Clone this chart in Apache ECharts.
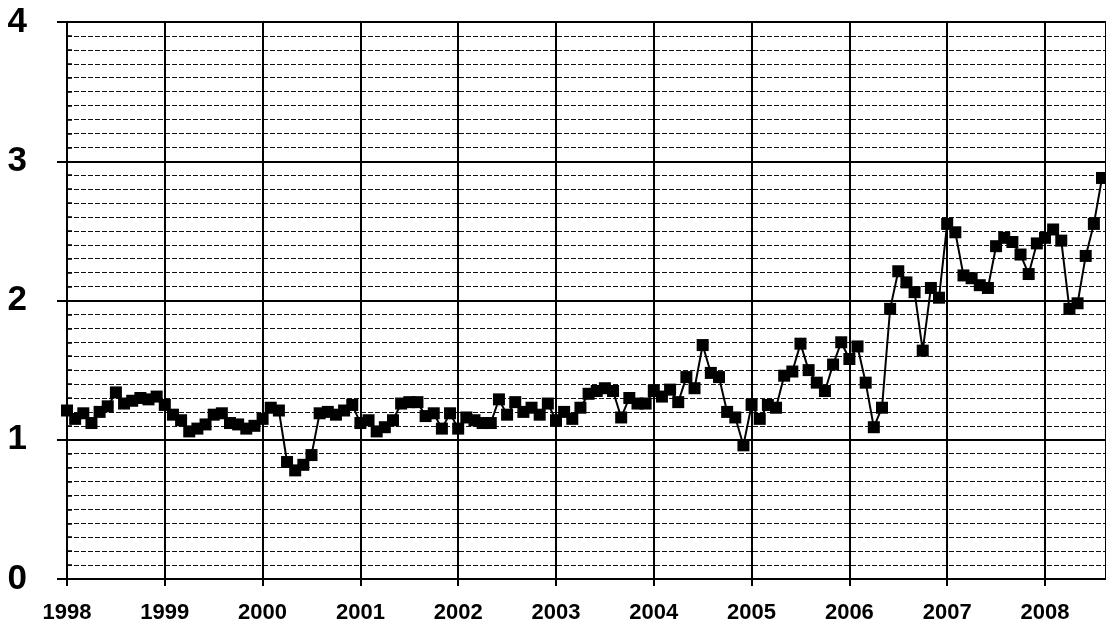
<!DOCTYPE html>
<html>
<head>
<meta charset="utf-8">
<script src="https://cdn.jsdelivr.net/npm/echarts@6/dist/echarts.min.js"></script>
<style>
html,body{margin:0;padding:0;background:#fff;}
#chart{width:1106px;height:624px;}
</style>
</head>
<body>
<div id="chart"></div>
<script>
// Monthly values, January to December, per year
const v1998 = [1.21, 1.15, 1.19, 1.12, 1.20, 1.24, 1.34, 1.26, 1.28, 1.30, 1.29, 1.31];
const v1999 = [1.25, 1.18, 1.14, 1.06, 1.08, 1.11, 1.18, 1.19, 1.12, 1.11, 1.08, 1.10];
const v2000 = [1.15, 1.23, 1.21, 0.84, 0.78, 0.82, 0.89, 1.19, 1.20, 1.18, 1.21, 1.25];
const v2001 = [1.12, 1.14, 1.06, 1.09, 1.14, 1.26, 1.27, 1.27, 1.17, 1.19, 1.08, 1.19];
const v2002 = [1.08, 1.16, 1.14, 1.12, 1.12, 1.29, 1.18, 1.27, 1.20, 1.23, 1.18, 1.26];
const v2003 = [1.14, 1.20, 1.15, 1.23, 1.33, 1.35, 1.37, 1.35, 1.16, 1.30, 1.26, 1.26];
const v2004 = [1.35, 1.31, 1.36, 1.27, 1.45, 1.37, 1.68, 1.48, 1.45, 1.20, 1.16, 0.96];
const v2005 = [1.25, 1.15, 1.25, 1.23, 1.46, 1.49, 1.69, 1.50, 1.41, 1.35, 1.54, 1.70];
const v2006 = [1.58, 1.67, 1.41, 1.09, 1.23, 1.94, 2.21, 2.13, 2.06, 1.64, 2.09, 2.02];
const v2007 = [2.55, 2.49, 2.18, 2.16, 2.11, 2.09, 2.39, 2.45, 2.42, 2.33, 2.19, 2.41];
const v2008 = [2.45, 2.51, 2.43, 1.94, 1.98, 2.32, 2.55, 2.88];

const years = [1998, 1999, 2000, 2001, 2002, 2003, 2004, 2005, 2006, 2007, 2008];
const yearValues = [v1998, v1999, v2000, v2001, v2002, v2003, v2004, v2005, v2006, v2007, v2008];
const yTicks = [0, 1, 2, 3, 4];

const points = [];
years.forEach((y, i) => {
  yearValues[i].forEach((v, m) => points.push([y + m / 12, v]));
});

const X_MIN = 1998, X_MAX = 2008.624;
const gridPos = { left: 67, right: 0, top: 22, bottom: 45 };

const chart = echarts.init(document.getElementById('chart'), null, { renderer: 'canvas' });
chart.setOption({
  animation: false,
  backgroundColor: '#fff',
  grid: [
    Object.assign({ show: false, containLabel: false }, gridPos),
    Object.assign({ show: false, containLabel: false }, gridPos)
  ],
  xAxis: [
    {
      type: 'value', gridIndex: 0, min: X_MIN, max: X_MAX, interval: 1, z: 3,
      axisLine: { show: true, onZero: false, lineStyle: { color: '#000', width: 2 } },
      axisTick: { show: true, length: 7, lineStyle: { color: '#000', width: 2 } },
      splitLine: { show: true, lineStyle: { color: '#000', width: 2 } },
      axisLabel: {
        show: true, margin: 23, color: '#000', fontSize: 22, fontWeight: 'bold',
        fontFamily: 'Liberation Sans, Arial, sans-serif',
        showMaxLabel: false,
        formatter: v => (Math.abs(v - Math.round(v)) < 1e-6 ? String(Math.round(v)) : '')
      }
    },
    {
      type: 'value', gridIndex: 1, min: X_MIN, max: X_MAX, show: false
    }
  ],
  yAxis: [
    {
      type: 'value', gridIndex: 0, min: 0, max: 4, interval: 1, z: 3,
      axisLine: { show: true, lineStyle: { color: '#000', width: 2 } },
      axisTick: { show: true, length: 10, lineStyle: { color: '#000', width: 2 } },
      splitLine: { show: true, lineStyle: { color: '#000', width: 2 } },
      axisLabel: {
        show: true, margin: 40, color: '#000', fontSize: 35, fontWeight: 'bold',
        fontFamily: 'Liberation Sans, Arial, sans-serif',
        formatter: v => (yTicks.indexOf(v) >= 0 ? String(v) : '')
      }
    },
    {
      type: 'value', gridIndex: 1, min: 0, max: 4, interval: 0.1, z: 1,
      axisLine: { show: false },
      axisTick: { show: true, inside: true, length: 5, lineStyle: { color: '#000', width: 1.5 } },
      splitLine: { show: true, lineStyle: { color: '#111', width: 1.2, type: [5, 2] } },
      axisLabel: { show: false }
    }
  ],
  series: [
    {
      type: 'line', xAxisIndex: 0, yAxisIndex: 0, z: 5,
      data: points,
      symbol: 'rect', symbolSize: 12,
      itemStyle: { color: '#000' },
      lineStyle: { color: '#000', width: 2 },
      clip: true
    }
  ]
});
</script>
</body>
</html>
